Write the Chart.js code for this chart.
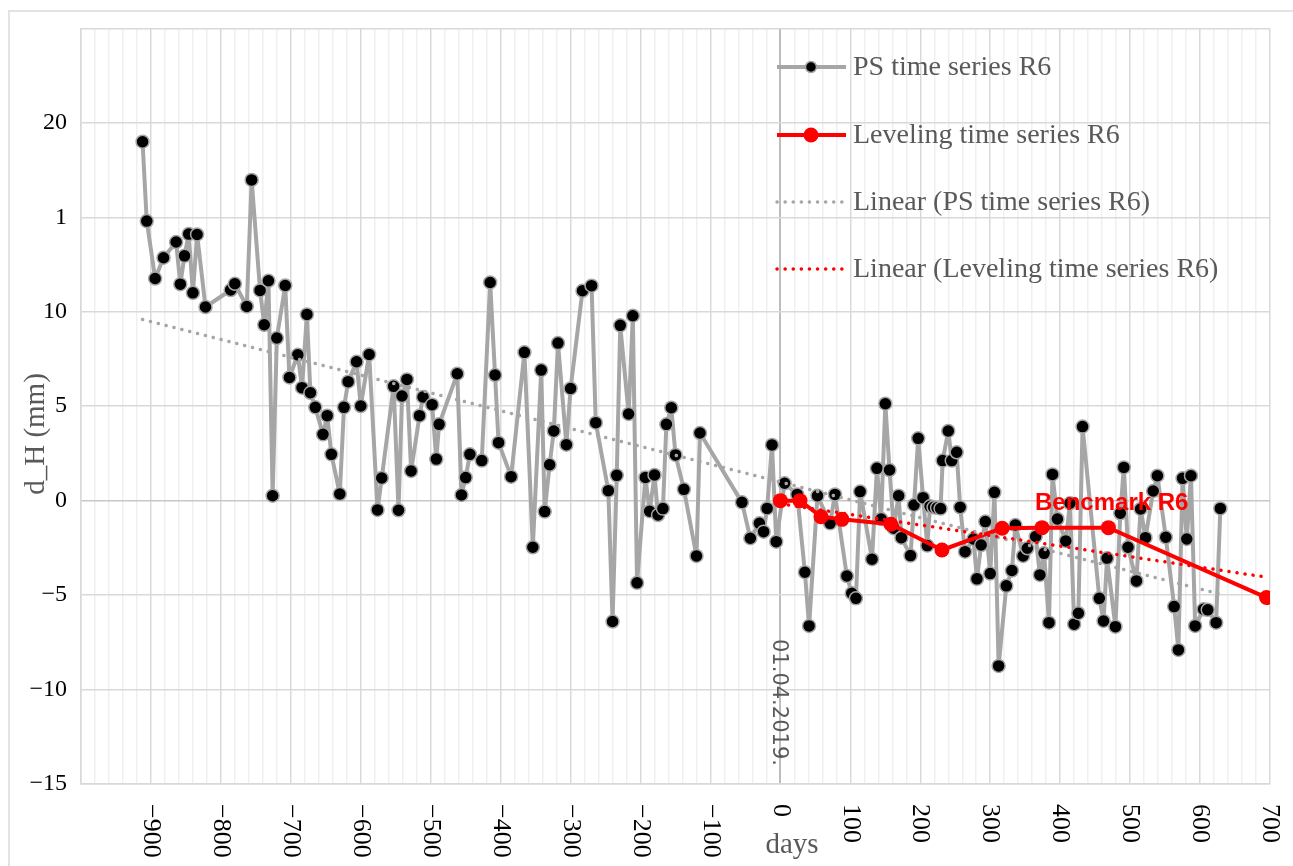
<!DOCTYPE html>
<html>
<head>
<meta charset="utf-8">
<script src="https://cdn.jsdelivr.net/npm/chart.js@4.4.0/dist/chart.umd.min.js"></script>
<style>
    html, body { margin: 0; padding: 0; background: #fff; }
    #wrap { position: relative; width: 1293px; height: 866px; overflow: hidden; }
    #frame { position: absolute; left: 8px; top: 10px; width: 1300px; height: 880px; border: 2px solid #e3e3e3; box-sizing: border-box; }
    canvas { position: absolute; left: 0; top: 0; }
</style>
</head>
<body>
<div id="wrap">
    <div id="frame"></div>
    <canvas id="myChart" width="1293" height="866"></canvas>
</div>
<script>
    // PS time series R6 (days, d_H mm)
    var psDays = [-912,-906,-894,-882,-864,-858,-852,-846,-840,-834,
        -822,-786,-780,-763,-756,-744,-738,-732,-726,-720,
        -708,-702,-690,-684,-677,-672,-665,-654,-648,-642,
        -630,-624,-618,-606,-600,-588,-576,-570,-553,-546,
        -541,-534,-528,-516,-511,-498,-492,-488,-462,-456,
        -450,-444,-427,-415,-408,-403,-385,-366,-354,-342,
        -337,-330,-324,-318,-306,-300,-283,-270,-264,-246,
        -240,-234,-229,-217,-211,-205,-193,-187,-180,-175,
        -168,-163,-156,-150,-138,-120,-115,-55,-43,-30,
        -24,-19,-12,-6,6,24,35,41,53,71,
        78,95,102,108,114,131,138,144,150,156,
        162,169,173,186,191,197,204,210,214,219,
        224,229,232,240,245,252,257,264,276,281,
        287,293,300,306,312,323,331,336,347,353,
        365,371,377,384,389,396,408,414,420,426,
        432,456,462,467,479,486,491,497,509,515,
        522,533,539,551,563,569,575,581,587,593,
        605,611,623,629];
    var psValues = [19.0,14.8,11.76,12.86,13.69,11.46,12.96,14.11,11.0,14.09,
        10.25,11.15,11.48,10.28,16.98,11.13,9.31,11.64,0.26,8.61,
        11.39,6.52,7.72,5.98,9.86,5.71,4.94,3.51,4.5,2.45,
        0.35,4.94,6.3,7.35,5.01,7.74,-0.49,1.2,6.05,-0.51,
        5.54,6.42,1.57,4.5,5.49,5.08,2.2,4.04,6.72,0.3,
        1.22,2.45,2.12,11.55,6.65,3.07,1.27,7.85,-2.47,6.91,
        -0.58,1.9,3.69,8.34,2.96,5.94,11.11,11.38,4.13,0.53,
        -6.4,1.34,9.28,4.59,9.79,-4.35,1.23,-0.56,1.36,-0.76,
        -0.42,4.04,4.92,2.42,0.6,-2.93,3.58,-0.09,-1.99,-1.2,
        -1.64,-0.41,2.95,-2.17,0.92,0.33,-3.79,-6.63,0.26,-1.2,
        0.33,-3.99,-4.9,-5.17,0.48,-3.1,1.71,-0.97,5.13,1.62,
        -1.46,0.26,-1.96,-2.91,-0.23,3.3,0.16,-2.38,-0.3,-0.35,
        -0.38,-0.42,2.12,3.69,2.12,2.56,-0.35,-2.7,-2.03,-4.14,
        -2.35,-1.11,-3.86,0.44,-8.75,-4.51,-3.7,-1.29,-2.93,-2.52,
        -1.9,-3.93,-2.79,-6.46,1.39,-0.97,-2.13,-0.14,-6.54,-5.96,
        3.92,-5.17,-6.37,-3.05,-6.67,-0.67,1.76,-2.47,-4.25,-0.44,
        -1.96,0.51,1.32,-1.94,-5.61,-7.9,1.18,-2.03,1.32,-6.63,
        -5.75,-5.78,-6.46,-0.41];

    // Leveling time series R6
    var levDays = [0, 28, 58, 88, 158, 231, 317, 374, 469, 695];
    var levValues = [0, 0, -0.85, -0.99, -1.25, -2.61, -1.46, -1.43, -1.43, -5.13];

    // trend lines, end points
    var psTrendDays = [-912, 629];
    var psTrendValues = [9.59, -4.95];
    var levTrendDays = [0, 695];
    var levTrendValues = [-0.17, -4.05];

    var xTickLabels = [-900,-800,-700,-600,-500,-400,-300,-200,-100,0,100,200,300,400,500,600,700];
    var yTickLabels = { '25': '', '20': '20', '15': '1', '10': '10', '5': '5', '0': '0', '-5': '\u22125', '-10': '\u221210', '-15': '\u221215' };

    var legendLabels = ['PS time series R6', 'Leveling time series R6', 'Linear (PS time series R6)', 'Linear (Leveling time series R6)'];
    var dateLabel = '01.04.2019.';
    var benchLabel = 'Bencmark R6';

    function toPoints(xs, ys) {
        return xs.map(function (x, i) { return { x: x, y: ys[i] }; });
    }
    function minus(v) {
        return v < 0 ? '\u2212' + Math.abs(v) : String(v);
    }

    var GREY = '#a6a6a6';
    var RED = '#ff0000';
    var SERIF = '"Liberation Serif", "Times New Roman", serif';

    var overlay = {
        id: 'overlay',
        afterDraw: function (chart) {
            var ctx = chart.ctx;
            var xs = chart.scales.x;
            ctx.save();

            // x tick labels, turned clockwise
            ctx.fillStyle = '#000';
            ctx.font = '26px ' + SERIF;
            ctx.textAlign = 'left';
            ctx.textBaseline = 'middle';
            xTickLabels.forEach(function (v) {
                ctx.save();
                ctx.translate(xs.getPixelForValue(v), 804);
                ctx.rotate(Math.PI / 2);
                ctx.fillText(minus(v), 0, 0);
                ctx.restore();
            });

            // axis titles
            ctx.fillStyle = '#595959';
            ctx.font = '29px ' + SERIF;
            ctx.textAlign = 'center';
            ctx.fillText('days', 792, 845);
            ctx.save();
            ctx.translate(36, 434);
            ctx.rotate(-Math.PI / 2);
            ctx.fillText('d_H (mm)', 0, 0);
            ctx.restore();

            // date marker text on the day-0 line
            ctx.save();
            ctx.font = '21px "DejaVu Sans", sans-serif';
            ctx.fillStyle = '#595959';
            ctx.textAlign = 'left';
            ctx.translate(778, 639);
            ctx.rotate(Math.PI / 2);
            ctx.fillText(dateLabel, 0, 0);
            ctx.restore();

            // benchmark label
            ctx.font = 'bold 24px "Liberation Sans", Arial, sans-serif';
            ctx.fillStyle = RED;
            ctx.textAlign = 'left';
            ctx.textBaseline = 'alphabetic';
            ctx.fillText(benchLabel, 1035, 510);

            // legend
            var rows = [67, 135, 202, 269];
            ctx.textBaseline = 'middle';
            rows.forEach(function (y, i) {
                ctx.save();
                ctx.beginPath();
                ctx.moveTo(777, y);
                ctx.lineTo(846, y);
                if (i === 0 || i === 1) {
                    ctx.strokeStyle = i === 0 ? GREY : RED;
                    ctx.lineWidth = 4;
                    ctx.stroke();
                    ctx.beginPath();
                    ctx.arc(811, y, i === 0 ? 5.5 : 7.5, 0, Math.PI * 2);
                    ctx.fillStyle = i === 0 ? '#000' : RED;
                    ctx.fill();
                    if (i === 0) {
                        ctx.lineWidth = 1.5;
                        ctx.strokeStyle = GREY;
                        ctx.stroke();
                    }
                } else {
                    ctx.strokeStyle = i === 2 ? GREY : RED;
                    ctx.lineWidth = 3.5;
                    ctx.lineCap = 'round';
                    ctx.setLineDash([0.1, 8]);
                    ctx.stroke();
                }
                ctx.restore();
                ctx.fillStyle = '#595959';
                ctx.font = '28px ' + SERIF;
                ctx.textAlign = 'left';
                ctx.fillText(legendLabels[i], 853, y + 1);
            });
            ctx.restore();
        }
    };

    var ctx = document.getElementById('myChart').getContext('2d');
    var myChart = new Chart(ctx, {
        type: 'scatter',
        data: {
            datasets: [{
                label: legendLabels[3],
                data: toPoints(levTrendDays, levTrendValues),
                showLine: true,
                borderColor: RED,
                borderWidth: 3.5,
                borderDash: [0.1, 8],
                borderCapStyle: 'round',
                pointRadius: 0,
                order: 0
            }, {
                label: legendLabels[2],
                data: toPoints(psTrendDays, psTrendValues),
                showLine: true,
                borderColor: GREY,
                borderWidth: 3.5,
                borderDash: [0.1, 8],
                borderCapStyle: 'round',
                pointRadius: 0,
                order: 1
            }, {
                label: legendLabels[1],
                data: toPoints(levDays, levValues),
                showLine: true,
                borderColor: RED,
                backgroundColor: RED,
                borderWidth: 4,
                pointRadius: 7.5,
                pointBorderWidth: 0,
                order: 2
            }, {
                label: legendLabels[0],
                data: toPoints(psDays, psValues),
                showLine: true,
                borderColor: GREY,
                borderWidth: 4,
                borderJoinStyle: 'round',
                pointRadius: 6.5,
                pointBorderWidth: 1.5,
                pointBackgroundColor: '#000',
                pointBorderColor: GREY,
                order: 3
            }]
        },
        options: {
            responsive: false,
            animation: false,
            layout: { padding: { left: 0, top: 26, right: 23, bottom: 0 } },
            plugins: {
                legend: { display: false },
                tooltip: { enabled: false }
            },
            scales: {
                x: {
                    type: 'linear',
                    min: -1000,
                    max: 700,
                    ticks: { stepSize: 20, display: false },
                    grid: {
                        drawTicks: false,
                        color: function (c) {
                            var v = c.tick.value;
                            if (v === 0) return '#bdbdbd';
                            return v % 100 === 0 ? '#d9d9d9' : '#f0f0f0';
                        },
                        lineWidth: function (c) {
                            return c.tick.value === 0 ? 2 : 1.5;
                        }
                    },
                    border: { color: '#d9d9d9', width: 1.5 },
                    afterFit: function (scale) { scale.height = 82; }
                },
                y: {
                    min: -15,
                    max: 25,
                    ticks: {
                        stepSize: 5,
                        padding: 14,
                        color: '#000',
                        font: { family: SERIF, size: 24 },
                        callback: function (v) { return yTickLabels[String(v)]; }
                    },
                    grid: {
                        drawTicks: false,
                        color: function (c) { return c.tick.value === 0 ? '#c8c8c8' : '#d9d9d9'; },
                        lineWidth: 1.5
                    },
                    border: { color: '#d9d9d9', width: 1.5 },
                    afterFit: function (scale) { scale.width = 81; }
                }
            }
        },
        plugins: [overlay]
    });
</script>
</body>
</html>
